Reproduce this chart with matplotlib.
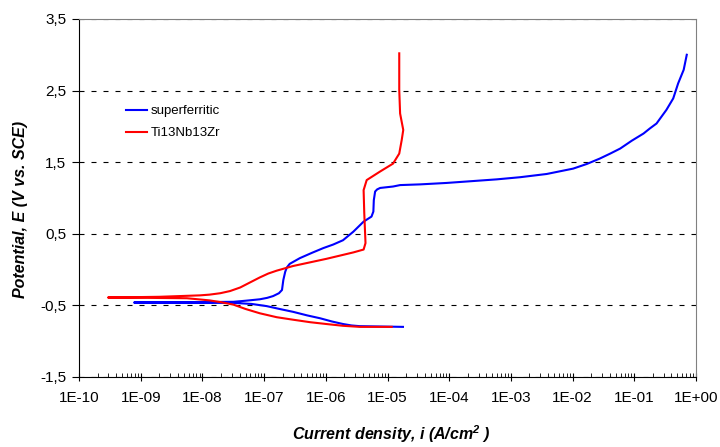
import numpy as np
import matplotlib
matplotlib.use('Agg')
import matplotlib.pyplot as plt
from matplotlib.ticker import LogLocator, NullFormatter

plt.rcParams['font.family'] = ['Liberation Sans', 'DejaVu Sans']
plt.rcParams['mathtext.fontset'] = 'custom'
plt.rcParams['mathtext.rm'] = 'Liberation Sans:bold:italic'
plt.rcParams['mathtext.it'] = 'Liberation Sans:bold:italic'

# superferritic: cathodic branch (right to left) then anodic branch
sf_i = [1.78e-5, 3.55e-6, 2.6e-6, 1.9e-6, 1.26e-6, 8.1e-7, 5.0e-7, 2.95e-7, 1.78e-7,
        1.1e-7, 6.3e-8, 3.2e-8, 7.1e-9, 7.8e-10,
        7.1e-9, 3.2e-8, 5.0e-8, 8.5e-8, 1.12e-7, 1.4e-7, 1.74e-7, 1.95e-7, 2.05e-7,
        2.2e-7, 2.34e-7, 2.6e-7, 3.8e-7, 6.0e-7, 9.1e-7, 1.32e-6, 1.9e-6, 2.8e-6,
        4.1e-6, 5.5e-6, 5.9e-6, 6.0e-6, 6.3e-6, 6.8e-6, 7.6e-6,
        1.23e-5, 1.6e-5, 3.4e-5, 9.1e-5, 5.9e-4, 1.41e-3, 3.8e-3, 1.02e-2, 1.7e-2,
        2.75e-2, 4.07e-2, 5.9e-2, 9.1e-2, 0.141, 0.178, 0.229, 0.331, 0.427, 0.513,
        0.631, 0.708]
sf_E = [-0.80, -0.79, -0.78, -0.76, -0.725, -0.68, -0.64, -0.59, -0.55,
        -0.51, -0.48, -0.465, -0.465, -0.46,
        -0.455, -0.45, -0.435, -0.415, -0.395, -0.37, -0.33, -0.285, -0.145,
        -0.03, 0.03, 0.08, 0.16, 0.235, 0.30, 0.35, 0.41, 0.53,
        0.67, 0.74, 0.81, 0.97, 1.09, 1.12, 1.14,
        1.16, 1.18, 1.19, 1.21, 1.26, 1.29, 1.335, 1.41, 1.475,
        1.55, 1.62, 1.69, 1.80, 1.90, 1.97, 2.04, 2.23, 2.39, 2.60,
        2.79, 3.00]

# Ti13Nb13Zr
ti_i = [1.17e-5, 3.55e-6, 1.9e-6, 1.02e-6, 5.6e-7, 2.95e-7, 1.6e-7, 8.5e-8, 5.0e-8,
        3.2e-8, 2.0e-8, 1.3e-8, 5.6e-9, 2.95e-10,
        2.0e-9, 9.1e-9, 1.3e-8, 1.95e-8, 2.8e-8, 4.1e-8, 5.9e-8, 8.5e-8, 1.17e-7,
        1.6e-7, 2.95e-7, 1.02e-6, 2.8e-6, 4.1e-6, 4.4e-6, 4.2e-6, 4.1e-6, 4.6e-6,
        7.6e-6, 1.23e-5, 1.55e-5, 1.7e-5, 1.8e-5, 1.6e-5, 1.55e-5, 1.55e-5]
ti_E = [-0.80, -0.80, -0.785, -0.76, -0.735, -0.70, -0.665, -0.61, -0.55,
        -0.49, -0.455, -0.43, -0.40, -0.39,
        -0.38, -0.36, -0.35, -0.33, -0.30, -0.25, -0.18, -0.11, -0.055,
        -0.015, 0.05, 0.15, 0.24, 0.28, 0.37, 0.79, 1.11, 1.25,
        1.37, 1.48, 1.62, 1.81, 1.95, 2.18, 2.51, 3.02]

y_ticks = [-1.5, -0.5, 0.5, 1.5, 2.5, 3.5]
y_labels = ['-1,5', '-0,5', '0,5', '1,5', '2,5', '3,5']
x_ticks = [1e-10, 1e-9, 1e-8, 1e-7, 1e-6, 1e-5, 1e-4, 1e-3, 1e-2, 1e-1, 1e0]
x_labels = ['1E-10', '1E-09', '1E-08', '1E-07', '1E-06', '1E-05',
            '1E-04', '1E-03', '1E-02', '1E-01', '1E+00']

fig = plt.figure(figsize=(7.2, 4.47), dpi=100)
ax = fig.add_axes([0.1097, 0.1566, 0.857, 0.801])

lw = 1.5
ax.plot(sf_i, sf_E, color='#0000ff', linewidth=lw, label='superferritic')
ax.plot(ti_i, ti_E, color='#ff0000', linewidth=lw, label='Ti13Nb13Zr')

ax.set_xscale('log')
ax.set_xlim(1e-10, 1e0)
ax.set_ylim(-1.5, 3.5)
ax.set_xticks(x_ticks)
ax.set_xticklabels(x_labels)
ax.xaxis.set_minor_locator(LogLocator(base=10, subs=np.arange(2, 10), numticks=100))
ax.xaxis.set_minor_formatter(NullFormatter())
ax.set_yticks(y_ticks)
ax.set_yticklabels(y_labels)

ax.tick_params(axis='x', which='major', direction='inout', length=6, width=0.8,
               labelsize=11, pad=7)
ax.tick_params(axis='x', which='minor', direction='in', length=3, width=0.6)
ax.tick_params(axis='y', which='major', direction='out', length=5, width=0.8,
               labelsize=11, pad=4)

ax.yaxis.grid(True, color='black', linewidth=0.8, linestyle=(0, (4.5, 6.3)))
ax.spines['top'].set_color('#808080')
ax.spines['right'].set_color('#808080')

ax.set_xlabel('Current density, i (A/cm$^{2}$ )', fontsize=11.5,
              fontweight='bold', style='italic')
ax.set_ylabel('Potential, E (V vs. SCE)', fontsize=11.5, fontweight='bold',
              style='italic')
ax.xaxis.set_label_coords(0.506, -0.128)
ax.yaxis.set_label_coords(-0.083, 0.469)

ax.legend(frameon=False, loc='upper left', bbox_to_anchor=(0.057, 0.793),
          fontsize=9.5, handlelength=1.6, handletextpad=0.25, labelspacing=0.74)

plt.savefig('out.png', dpi=100)
